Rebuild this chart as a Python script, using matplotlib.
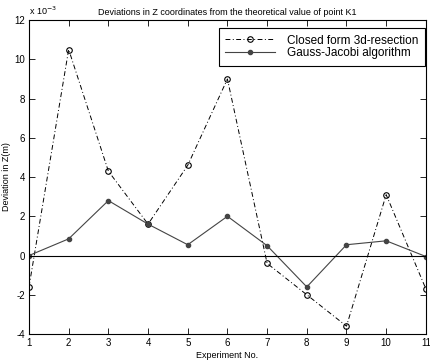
import matplotlib
matplotlib.use("Agg")
import matplotlib.pyplot as plt

plt.rcParams['font.family'] = ['Liberation Sans', 'DejaVu Sans']
plt.rcParams['axes.unicode_minus'] = False

experiments = [1, 2, 3, 4, 5, 6, 7, 8, 9, 10, 11]
# deviations in units of 1e-3 m
closed_form = [-1.6, 10.5, 4.3, 1.6, 4.6, 9.0, -0.4, -2.0, -3.6, 3.1, -1.7]
gauss_jacobi = [0.0, 0.85, 2.8, 1.6, 0.55, 2.0, 0.5, -1.6, 0.55, 0.75, -0.05]

fig = plt.figure(figsize=(4.3, 3.6), dpi=100)
ax = fig.add_axes([0.0674, 0.0722, 0.923, 0.872])

ax.plot(experiments, closed_form, color='black', linestyle=(0, (5, 2.5, 1, 2.5)), linewidth=0.7,
        marker='o', markersize=4, markerfacecolor='none', markeredgecolor='black',
        markeredgewidth=0.8, label='Closed form 3d-resection')
ax.plot(experiments, gauss_jacobi, color='#444444', linestyle='-', linewidth=0.8,
        marker='o', markersize=3, markerfacecolor='#444444', markeredgecolor='#444444',
        label='Gauss-Jacobi algorithm')
ax.axhline(0, color='black', linewidth=0.8)

ax.set_xlim(1, 11)
ax.set_ylim(-4, 12)
ax.set_xticks(range(1, 12))
ax.set_yticks(range(-4, 13, 2))
ax.tick_params(direction='in', top=True, right=True, labelsize=7, length=4, width=0.6, pad=3)
for s in ax.spines.values():
    s.set_linewidth(0.8)

ax.set_title('Deviations in Z coordinates from the theoretical value of point K1', fontsize=6.5, pad=4)
ax.set_xlabel('Experiment No.', fontsize=6.5, labelpad=2)
ax.set_ylabel('Deviation in Z(m)', fontsize=6.5, labelpad=2)
ax.text(0.0, 1.01, r'x 10$^{-3}$', transform=ax.transAxes, fontsize=6.5, ha='left', va='bottom')

leg = ax.legend(loc='upper right', bbox_to_anchor=(0.997, 0.9745), fontsize=8.5, frameon=True,
                fancybox=False, edgecolor='black', framealpha=1, borderaxespad=0,
                handlelength=4.2, handletextpad=1.0, borderpad=0.55, labelspacing=0.05)
leg.get_frame().set_linewidth(0.8)

fig.savefig('out.png', dpi=100)
